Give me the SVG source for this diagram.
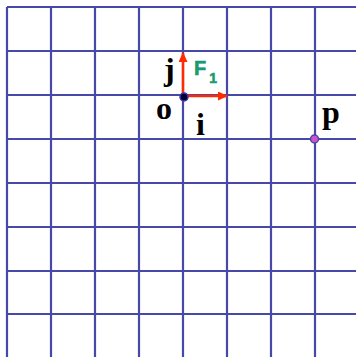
<svg xmlns="http://www.w3.org/2000/svg" width="356" height="357" viewBox="0 0 356 357">
<defs>
<style>
.grid line{stroke:#4848a8;stroke-width:2.2}
.lbl{font-family:"Liberation Serif",serif;font-weight:bold;font-size:32px;fill:#000}
.f{font-family:"Liberation Sans",sans-serif;font-weight:bold;fill:#1a9a70;stroke:#1a9a70;stroke-width:0.6}
.vec{stroke:#ff2a00;stroke-width:2.5;fill:none}
</style>
<marker id="ah" markerWidth="10" markerHeight="9" refX="9" refY="4.5" orient="auto" markerUnits="userSpaceOnUse">
<path d="M0,0 L10,4.5 L0,9 Z" fill="#ff2a00"/>
</marker>
</defs>
<rect width="356" height="357" fill="#fff"/>
<g class="grid">
<line x1="7" y1="7" x2="7" y2="357"/>
<line x1="51" y1="7" x2="51" y2="357"/>
<line x1="95" y1="7" x2="95" y2="357"/>
<line x1="139" y1="7" x2="139" y2="357"/>
<line x1="183" y1="7" x2="183" y2="357"/>
<line x1="227" y1="7" x2="227" y2="357"/>
<line x1="271" y1="7" x2="271" y2="357"/>
<line x1="315" y1="7" x2="315" y2="357"/>
<line x1="7" y1="7" x2="356" y2="7"/>
<line x1="7" y1="51" x2="356" y2="51"/>
<line x1="7" y1="95" x2="356" y2="95"/>
<line x1="7" y1="139" x2="356" y2="139"/>
<line x1="7" y1="183" x2="356" y2="183"/>
<line x1="7" y1="227" x2="356" y2="227"/>
<line x1="7" y1="271" x2="356" y2="271"/>
<line x1="7" y1="314" x2="356" y2="314"/>
</g>
<g id="connectors">
<line class="vec" x1="183" y1="96" x2="183" y2="53" marker-end="url(#ah)"/>
<line class="vec" x1="183" y1="96" x2="227" y2="96" marker-end="url(#ah)"/>
</g>
<g id="origin">
<circle cx="184" cy="97" r="4" fill="#000033" stroke="#3a3aa8" stroke-width="1.5"/>
<text class="lbl" x="156" y="119">o</text>
</g>
<g id="label-j"><text class="lbl" x="164" y="80">j</text></g>
<g id="label-i"><text class="lbl" x="196" y="135">i</text></g>
<g id="label-F1"><text class="f" x="194" y="75" font-size="20">F<tspan font-size="14" dx="3" dy="8">1</tspan></text></g>
<g id="point-p">
<circle cx="314.5" cy="139" r="4" fill="#cc55cc" stroke="#4848a8" stroke-width="1.5"/>
<text class="lbl" x="322" y="123">p</text>
</g>
</svg>
